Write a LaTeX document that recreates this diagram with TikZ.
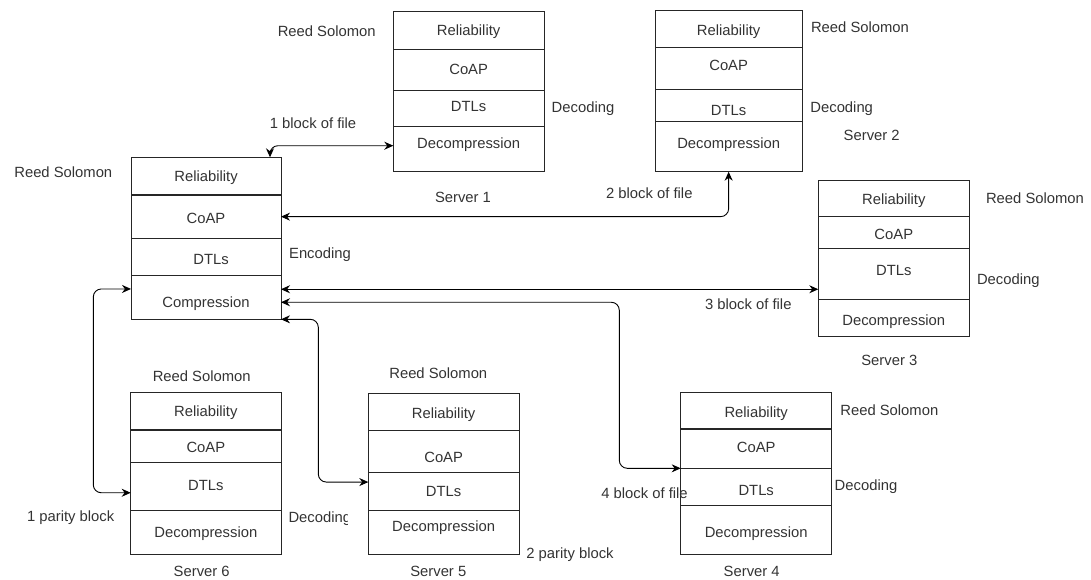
\documentclass[tikz,border=0pt]{standalone}
\usepackage{fontspec}
\setmainfont{Liberation Sans}
\usetikzlibrary{arrows.meta,calc}
\newcommand\stackrow[7]{\node[lay, minimum width=#5, minimum height={(#4)-(#3)}] (#1) at (#2,#3) {\raisebox{#6pt}{#7}};}
\begin{document}
\begin{tikzpicture}[x=1pt,y=-1pt,
  lay/.style={draw=black!85, line width=0.9pt, inner sep=0pt, outer sep=0pt, anchor=north west,
    text height=10.6pt, text depth=0pt, font=\fontsize{14.8}{17}\selectfont, text=black!80},
  lbl/.style={inner sep=0pt, text height=10.6pt, text depth=0pt, font=\fontsize{14.8}{17}\selectfont, text=black!80},
  conn/.style={line width=0.9pt, rounded corners=8pt,
    {Stealth[length=9pt,width=8pt]}-{Stealth[length=9pt,width=8pt]}},
  sep/.style={line width=2pt, draw=black!85}]
\useasboundingbox (0,0) rectangle (1091,579);

% Main (client) stack
\stackrow{m1}{131}{157.3}{195}{150}{0}{Reliability}
\stackrow{m2}{131}{195}{238.3}{150}{-1.6}{CoAP}
\stackrow{m3}{131}{238.3}{275}{150}{-2.6}{\hspace{10pt}DTLs}
\stackrow{m4}{131}{275}{319.3}{150}{-5}{Compression}
\draw[sep] (m1.south west) -- (m1.south east);

% Server 1
\stackrow{s1a}{393.3}{11.7}{49}{150.7}{0}{Reliability}
\stackrow{s1b}{393.3}{49}{90}{150.7}{0}{CoAP}
\stackrow{s1c}{393.3}{90}{126.7}{150.7}{2.3}{DTLs}
\stackrow{s1d}{393.3}{126.7}{171.7}{150.7}{6.5}{Decompression}

% Server 2
\stackrow{s2a}{655}{10.7}{47.7}{147.3}{-0.8}{Reliability}
\stackrow{s2b}{655}{47.7}{89.3}{147.3}{3.5}{CoAP}
\stackrow{s2c}{655}{89.3}{121.7}{147.3}{-4.5}{DTLs}
\stackrow{s2d}{655}{121.7}{171.7}{147.3}{3.4}{Decompression}

% Server 3
\stackrow{s3a}{818.3}{180}{216.7}{151}{-1}{Reliability}
\stackrow{s3b}{818.3}{216.7}{248.3}{151}{-1.5}{CoAP}
\stackrow{s3c}{818.3}{248.3}{299.3}{151}{3.8}{DTLs}
\stackrow{s3d}{818.3}{299.3}{336.7}{151}{-2}{Decompression}

% Server 4
\stackrow{s4a}{680.7}{392.3}{429.3}{151}{-0.9}{Reliability}
\stackrow{s4b}{680.7}{429.3}{468.3}{151}{2.1}{CoAP}
\stackrow{s4c}{680.7}{468.3}{505}{151}{-3.3}{DTLs}
\stackrow{s4d}{680.7}{505}{554}{151}{-2.2}{Decompression}
\draw[sep] (s4a.south west) -- (s4a.south east);

% Server 5
\stackrow{s5a}{368.3}{393.3}{430.7}{150.7}{-0.7}{Reliability}
\stackrow{s5b}{368.3}{430.7}{472.7}{150.7}{-5.6}{CoAP}
\stackrow{s5c}{368.3}{472.7}{510}{150.7}{0}{DTLs}
\stackrow{s5d}{368.3}{510}{554}{150.7}{6}{Decompression}

% Server 6
\stackrow{s6a}{130.7}{392.3}{430}{150.3}{0}{Reliability}
\stackrow{s6b}{130.7}{430}{462.7}{150.3}{-1}{CoAP}
\stackrow{s6c}{130.7}{462.7}{510}{150.3}{1.3}{DTLs}
\stackrow{s6d}{130.7}{510}{554}{150.3}{0}{Decompression}
\draw[sep] (s6a.south west) -- (s6a.south east);

% Labels
\node[lbl] (rsm) at (63.3,171.7) {Reed Solomon};
\node[lbl] (enc) at (320,253.3) {Encoding};

\node[lbl] (rs1) at (326.7,31) {Reed Solomon};
\node[lbl] (dec1) at (583,106.7) {Decoding};
\node[lbl] (srv1) at (463,196.7) {Server 1};
\node[lbl] (blk1) at (313,122.7) {1 block of file};

\node[lbl] (rs2) at (860,27.3) {Reed Solomon};
\node[lbl] (dec2) at (841.7,106.7) {Decoding};
\node[lbl] (srv2) at (871.7,135) {Server 2};
\node[lbl] (blk2) at (649.3,192.7) {2 block of file};

\node[lbl] (rs3) at (1035,198.3) {Reed Solomon};
\node[lbl] (dec3) at (1008.3,279.3) {Decoding};
\node[lbl] (srv3) at (889.3,360) {Server 3};
\node[lbl] (blk3) at (748.3,304) {3 block of file};

\node[lbl] (rs4) at (889.3,410) {Reed Solomon};
\node[lbl] (dec4) at (866,485) {Decoding};
\node[lbl] (srv4) at (751.7,571) {Server 4};
\node[lbl] (blk4) at (644.5,493.3) {4 block of file};

\node[lbl] (rs5) at (438.3,373.3) {Reed Solomon};
\node[lbl] (par2) at (570,553.3) {2 parity block};
\node[lbl] (srv5) at (438.3,571) {Server 5};

\node[lbl] (rs6) at (201.7,376) {Reed Solomon};
\node[lbl] (par1) at (70.7,516) {1 parity block};
\node[lbl] (srv6) at (201.7,571) {Server 6};
\begin{scope}
\clip (282,500) rectangle (347,535);
\node[lbl,anchor=west] (dec6) at (288.3,516.7) {Decoding};
\end{scope}

% Connectors
\draw[conn] ([xshift=-11pt]m1.north east) |- ([yshift=3.5pt]s1d.west);
\draw[conn] (m2.east) -| (s2d.south);
\coordinate (a3) at ([yshift=7.9pt]m4.east);
\draw[conn] (a3) -- (a3 -| s3c.west);
\coordinate (a4) at ([yshift=-5.1pt]m4.east);
\draw[conn] (a4) -- ++(338.3,0) |- (s4b.south west);
\draw[conn] (m4.south east) -- ++(37.3,0) |- ([yshift=9.3pt]s5c.west);
\coordinate (a6) at ([yshift=8.2pt]m4.west);
\draw[conn] (a6) -- ++(-37.7,0) |- ([yshift=-6.4pt]s6c.west);
\end{tikzpicture}
\end{document}
